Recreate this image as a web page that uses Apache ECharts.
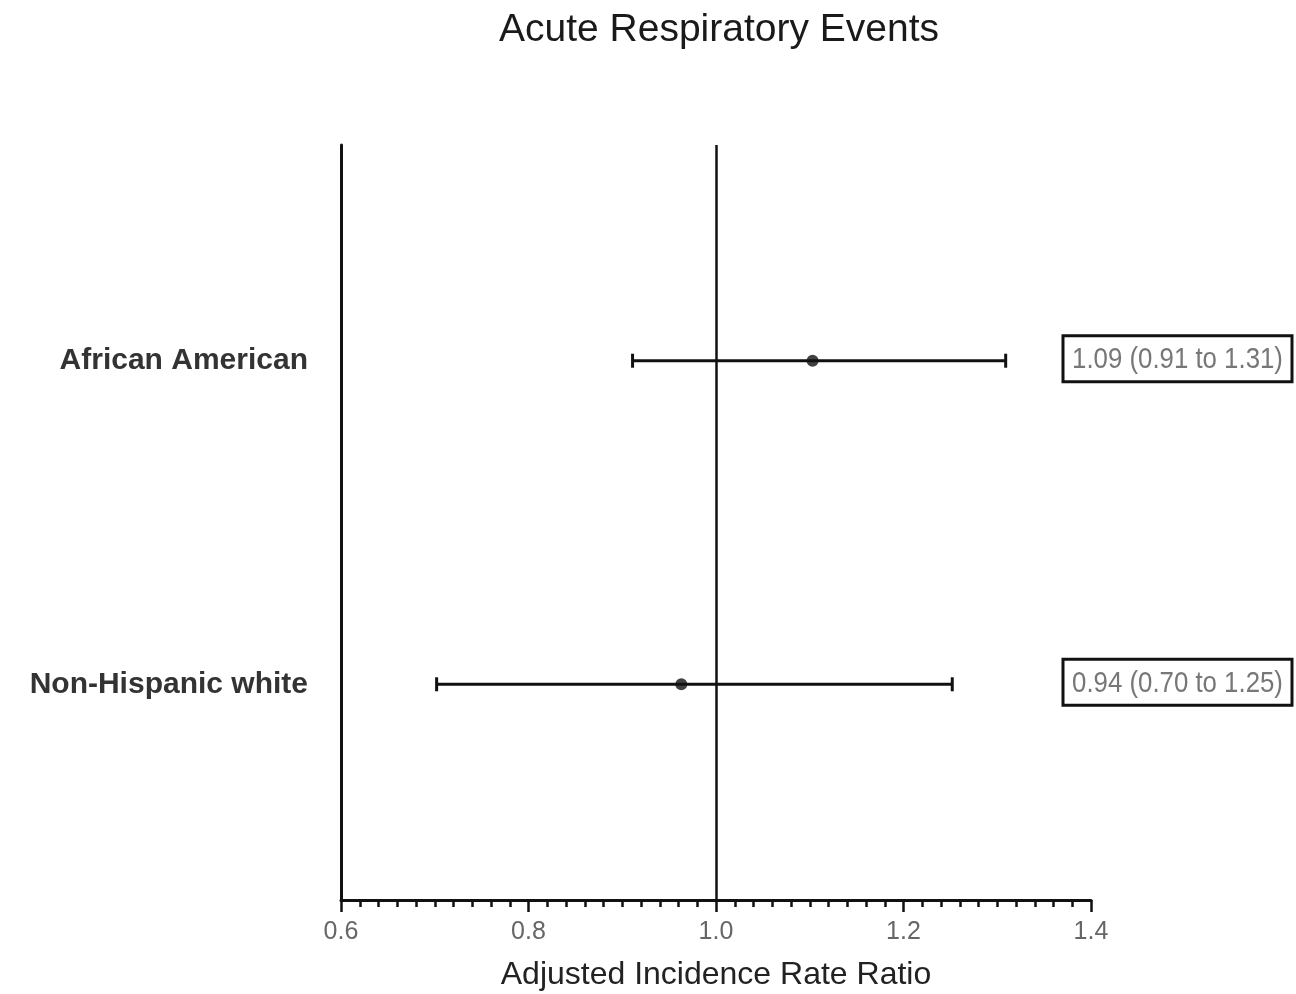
<!DOCTYPE html>
<html>
<head>
<meta charset="utf-8">
<script src="https://cdn.jsdelivr.net/npm/echarts@6/dist/echarts.min.js"></script>
<style>
  html, body { margin: 0; padding: 0; background: #fff; }
  #main { width: 1296px; height: 994px; }
</style>
</head>
<body>
<div id="main"></div>
<script>
// rows, bottom to top positions on the hidden value axis
var groups = ['African American', 'Non-Hispanic white'];
var rowPos = [5, 2];
var estimate = [1.103, 0.963];
var lower = [0.911, 0.702];
var upper = [1.309, 1.252];
var boxText = ['1.09 (0.91 to 1.31)', '0.94 (0.70 to 1.25)'];

(function(){
  var myChart = echarts.init(document.getElementById('main'));

  var points = [], bars = [];
  for (var i = 0; i < groups.length; i++) {
    points.push([estimate[i], rowPos[i]]);
    bars.push([lower[i], upper[i], rowPos[i], boxText[i]]);
  }

  var option = {
    backgroundColor: '#fff',
    animation: false,
    title: {
      text: 'Acute Respiratory Events',
      left: 714,
      top: 6,
      textAlign: 'center',
      textStyle: { fontFamily: 'Liberation Sans, Arial', fontSize: 39, fontWeight: 'normal', color: '#1a1a1a' }
    },
    grid: { left: 341, right: 205, top: 145, bottom: 94, outerBoundsMode: 'none' },
    xAxis: {
      type: 'value',
      min: 0.6,
      max: 1.4,
      interval: 0.2,
      name: 'Adjusted Incidence Rate Ratio',
      nameLocation: 'middle',
      nameGap: 59,
      nameTextStyle: { fontFamily: 'Liberation Sans, Arial', fontSize: 32, color: '#222' },
      axisLine: { lineStyle: { color: '#111', width: 3 } },
      axisTick: { length: 12, lineStyle: { color: '#111', width: 2.5 } },
      minorTick: { show: true, splitNumber: 10, length: 7, lineStyle: { color: '#111', width: 2.5 } },
      splitLine: { show: false },
      axisLabel: {
        margin: 20,
        fontFamily: 'Liberation Sans, Arial',
        fontSize: 25,
        color: '#666',
        formatter: function (v) { return v.toFixed(1); }
      }
    },
    yAxis: {
      type: 'value',
      min: 0,
      max: 7,
      interval: 1,
      axisLine: { show: true, lineStyle: { color: '#111', width: 3 } },
      axisTick: { show: false },
      splitLine: { show: false },
      axisLabel: {
        margin: 33,
        fontFamily: 'Liberation Sans, Arial',
        fontSize: 30,
        fontWeight: 'bold',
        color: '#333',
        formatter: function (v) {
          var k = rowPos.indexOf(v);
          return k >= 0 ? groups[k] : '';
        }
      }
    },
    series: [
      {
        type: 'custom',
        clip: false,
        data: bars,
        renderItem: function (params, api) {
          var y = api.value(2);
          var a = api.coord([api.value(0), y]);
          var b = api.coord([api.value(1), y]);
          var edge = api.coord([1.4, y]);
          var cap = 7;
          var ls = { stroke: '#111', lineWidth: 3 };
          var bx = edge[0] - 28, cy = edge[1] - 2;
          return {
            type: 'group',
            children: [
              { type: 'line', shape: { x1: a[0], y1: a[1], x2: b[0], y2: b[1] }, style: ls },
              { type: 'line', shape: { x1: a[0], y1: a[1] - cap, x2: a[0], y2: a[1] + cap }, style: ls },
              { type: 'line', shape: { x1: b[0], y1: b[1] - cap, x2: b[0], y2: b[1] + cap }, style: ls },
              {
                type: 'rect',
                shape: { x: bx, y: cy - 23, width: 229, height: 46 },
                style: { fill: '#fff', stroke: '#111', lineWidth: 3 }
              },
              {
                type: 'text',
                x: bx + 114.5,
                y: cy + 1,
                scaleX: 0.86,
                style: {
                  text: api.value(3),
                  x: 0,
                  y: 0,
                  align: 'center',
                  verticalAlign: 'middle',
                  fill: '#777',
                  font: '30px "Liberation Sans", Arial'
                }
              }
            ]
          };
        }
      },
      {
        type: 'scatter',
        data: points,
        symbol: 'circle',
        symbolSize: 12,
        itemStyle: { color: '#111' },
        z: 5,
        markLine: {
          silent: true,
          symbol: 'none',
          label: { show: false },
          lineStyle: { color: '#111', width: 2.5, type: 'solid' },
          data: [{ xAxis: 1.0 }]
        }
      }
    ]
  };

  myChart.setOption(option);
})();
</script>
</body>
</html>
